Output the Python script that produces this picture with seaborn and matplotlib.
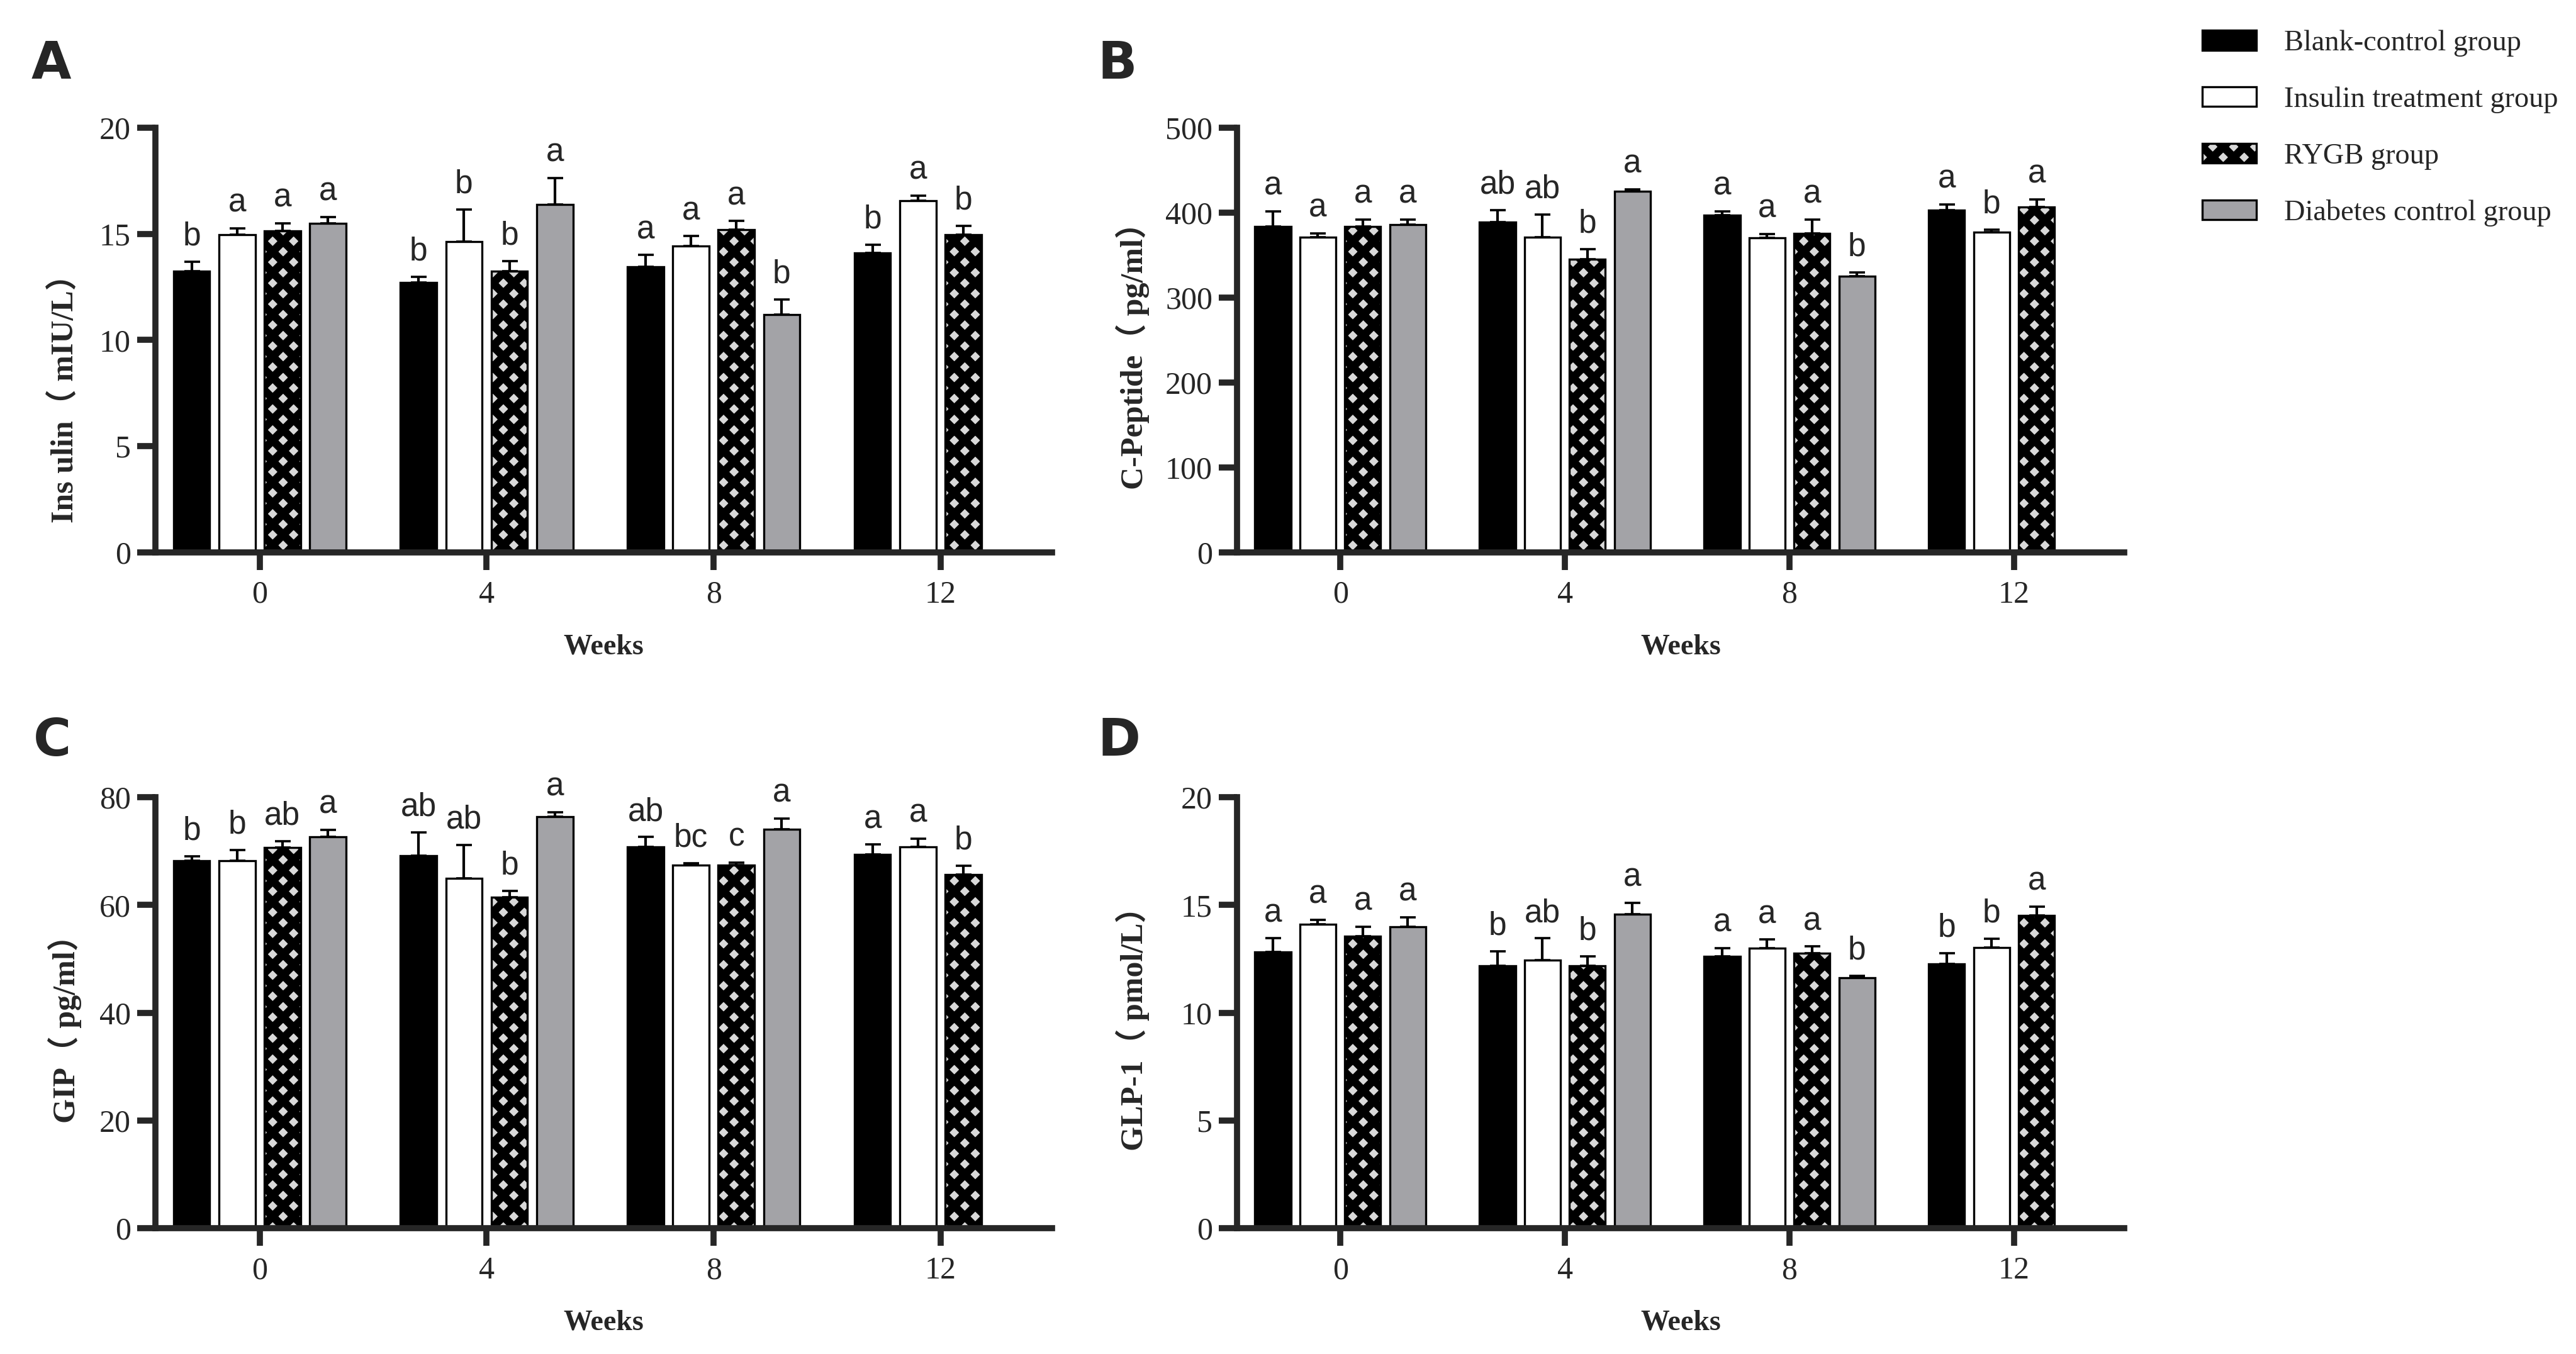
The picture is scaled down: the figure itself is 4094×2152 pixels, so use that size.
import numpy as np
import pandas as pd
import seaborn as sns
import matplotlib.pyplot as plt

weeks = ["0", "4", "8", "12"]
groups = ["Blank-control group", "Insulin treatment group", "RYGB group", "Diabetes control group"]
colors = ["#000000", "#ffffff", "#d9d9d9", "#a3a3a7"]

# rows = groups, columns = weeks; nan = no bar
insulin_mean = [[13.25, 12.71, 13.45, 14.10], [14.97, 14.65, 14.44, 16.55],
                [15.15, 13.25, 15.19, 14.97], [15.49, 16.38, 11.19, np.nan]]
insulin_err = [[0.45, 0.28, 0.55, 0.40], [0.30, 1.51, 0.45, 0.26],
               [0.35, 0.47, 0.41, 0.40], [0.29, 1.26, 0.71, np.nan]]
insulin_sig = [["b", "b", "a", "b"], ["a", "b", "a", "a"], ["a", "b", "a", "b"], ["a", "a", "b", ""]]

cpep_mean = [[383.7, 388.7, 396.7, 403.2], [371.3, 371.3, 370.3, 376.7],
             [383.7, 344.8, 375.2, 406.7], [385.7, 425.1, 324.9, np.nan]]
cpep_err = [[18.0, 14.3, 5.0, 6.5], [4.4, 26.4, 4.5, 3.0],
            [8.3, 12.0, 16.5, 9.0], [6.0, 2.0, 4.9, np.nan]]
cpep_sig = [["a", "ab", "a", "a"], ["a", "ab", "a", "b"], ["a", "b", "a", "a"], ["a", "a", "b", ""]]

gip_mean = [[68.2, 69.2, 70.8, 69.4], [68.2, 64.9, 67.4, 70.8],
            [70.7, 61.4, 67.4, 65.6], [72.6, 76.4, 74.0, np.nan]]
gip_err = [[0.8, 4.3, 1.8, 1.8], [2.0, 6.2, 0.4, 1.5],
           [1.1, 1.2, 0.5, 1.7], [1.3, 0.8, 2.0, np.nan]]
gip_sig = [["b", "ab", "ab", "a"], ["b", "ab", "bc", "a"], ["ab", "b", "c", "b"], ["a", "a", "a", ""]]

glp_mean = [[12.81, 12.19, 12.63, 12.27], [14.10, 12.45, 13.00, 13.03],
            [13.56, 12.19, 12.77, 14.52], [13.98, 14.58, 11.62, np.nan]]
glp_err = [[0.64, 0.66, 0.37, 0.50], [0.20, 1.00, 0.39, 0.40],
           [0.44, 0.44, 0.30, 0.40], [0.44, 0.53, 0.08, np.nan]]
glp_sig = [["a", "b", "a", "b"], ["a", "ab", "a", "b"], ["a", "b", "a", "a"], ["a", "a", "b", ""]]

panels = [
    ("A", "Ins ulin（ mIU/L）", insulin_mean, insulin_err, insulin_sig, 20, 5,
     [0.0603, 0.592, 0.348, 0.3137], (-0.101, 0.38)),
    ("B", "C-Peptide（ pg/ml）", cpep_mean, cpep_err, cpep_sig, 500, 100,
     [0.4802, 0.592, 0.3444, 0.3137], (-0.118, 0.48)),
    ("C", "GIP（ pg/ml）", gip_mean, gip_err, gip_sig, 80, 20,
     [0.0603, 0.0929, 0.348, 0.3183], (-0.101, 0.48)),
    ("D", "GLP-1（ pmol/L）", glp_mean, glp_err, glp_sig, 20, 5,
     [0.4802, 0.0929, 0.3444, 0.3183], (-0.118, 0.48)),
]
letter_pos = {"A": (0.012, 0.942), "B": (0.426, 0.942), "C": (0.013, 0.442), "D": (0.426, 0.442)}

sns.set_style("ticks")
plt.rcParams["hatch.linewidth"] = 4.6
serif = ["Liberation Serif", "Noto Sans CJK SC"]

fig = plt.figure(figsize=(4094 / 200, 2152 / 200), dpi=200)

for name, ylab, mean, err, sig, ymax, ystep, rect, ylab_xy in panels:
    ax = fig.add_axes(rect)
    rows = []
    for g, grp in enumerate(groups):
        for w, wk in enumerate(weeks):
            if not np.isnan(mean[g][w]):
                rows.append({"week": wk, "group": grp, "value": mean[g][w],
                             "err": err[g][w], "sig": sig[g][w]})
    df = pd.DataFrame(rows)
    sns.barplot(data=df, x="week", y="value", hue="group", order=weeks, hue_order=groups,
                palette=colors, errorbar=None, gap=0.2, width=0.8,
                edgecolor="black", linewidth=1.2, saturation=1, legend=False, ax=ax)

    bar_conts = list(ax.containers)
    for g, cont in enumerate(bar_conts):
        sub = df[df["group"] == groups[g]].set_index("week").reindex(weeks).dropna(subset=["value"])
        for bar, (_, r) in zip(cont.patches, sub.iterrows()):
            if g == 2:
                bar.set_hatch("xx")
            xc = bar.get_x() + bar.get_width() / 2
            top = bar.get_height()
            ax.errorbar(xc, top, yerr=[[0], [r["err"]]], fmt="none", ecolor="black",
                        elinewidth=1.5, capsize=4.5, capthick=1.3, zorder=3)
            ax.annotate(r["sig"], (xc, top + r["err"]), xytext=(0, 9.5), textcoords="offset points",
                        ha="center", va="baseline", fontsize=18.5, family="Liberation Sans")

    ax.set_xlim(-0.46, 3.49)
    ax.set_ylim(0, ymax)
    ax.set_yticks(np.arange(0, ymax + ystep, ystep))
    sns.despine(ax=ax)
    for sp in ["left", "bottom"]:
        ax.spines[sp].set_linewidth(3.5)
        ax.spines[sp].set_zorder(5)
    ax.tick_params(axis="y", width=3.5, length=10.5, pad=3.5, labelsize=18)
    ax.tick_params(axis="x", width=3.5, length=10, pad=6, labelsize=18)
    for lab in ax.get_xticklabels() + ax.get_yticklabels():
        lab.set_family(serif)
    ax.set_xlabel("Weeks", fontsize=16.5, fontweight="bold", family=serif, labelpad=14)
    ax.set_ylabel(ylab, fontsize=18, fontweight="bold", family=serif)
    ax.yaxis.label.set_va("center")
    ax.yaxis.set_label_coords(*ylab_xy)

    lx, ly = letter_pos[name]
    fig.text(lx, ly, name, fontsize=29.5, fontweight="bold", family="DejaVu Sans")

    if name == "A":
        handles = bar_conts

fig.legend(handles, groups, loc="upper left", bbox_to_anchor=(0.8470, 0.993), frameon=False,
           prop={"family": "Liberation Serif", "size": 16.7}, handlelength=1.85, handleheight=0.67,
           labelspacing=1.02, handletextpad=0.95, borderpad=0.2)

fig.savefig("out.png", dpi=200, facecolor="white")
